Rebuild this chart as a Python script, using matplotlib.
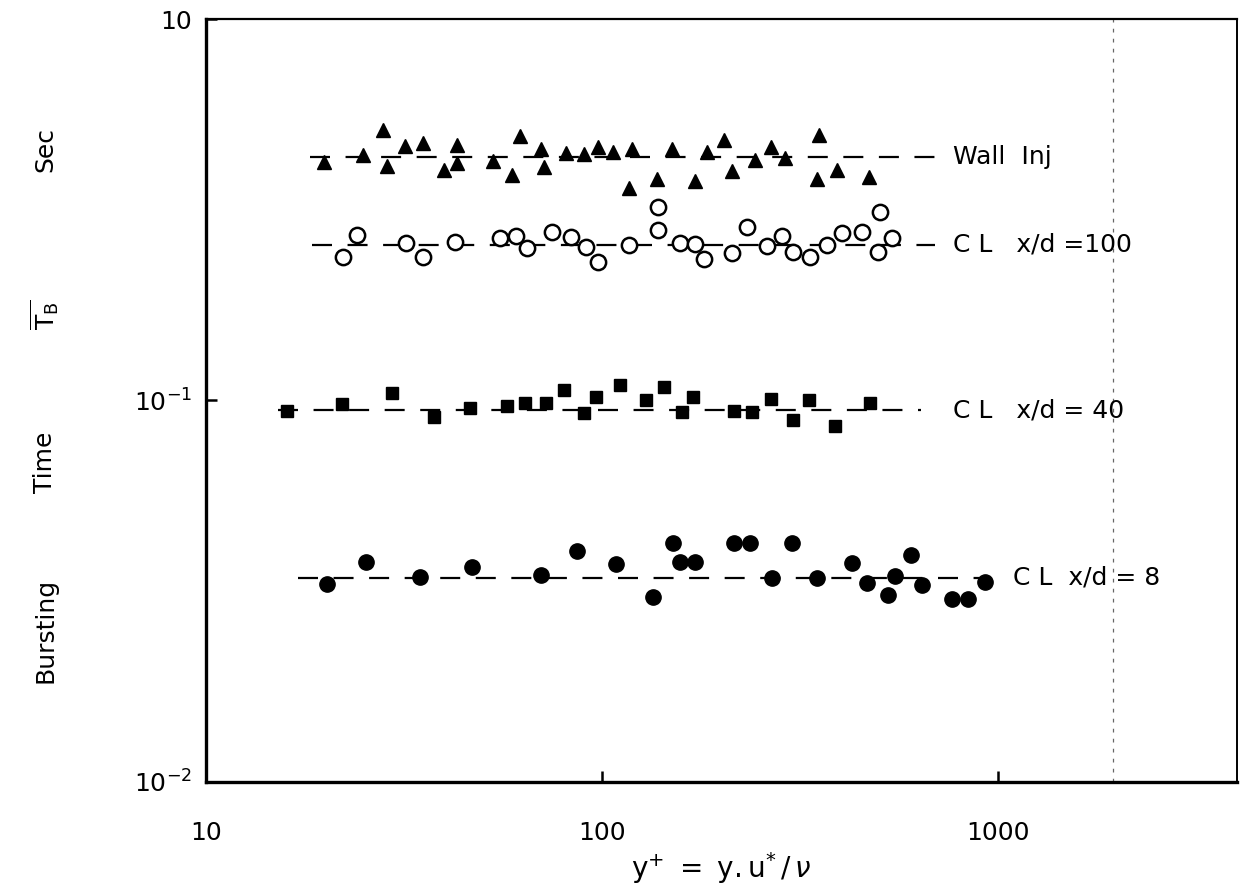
import matplotlib
matplotlib.use("Agg")
import matplotlib.pyplot as plt
from matplotlib.ticker import FixedLocator, FixedFormatter, NullLocator

# Bursting time against y+ for the four measuring stations
wall_x = [19.8, 24.9, 28.0, 28.7, 31.8, 35.3, 39.9, 43.0, 43.0, 53.0, 59.3,
          62.1, 70.2, 71.4, 81.1, 90.1, 97.7, 106.6, 119.1, 117.0, 137.7,
          150.2, 171.7, 184.1, 203.3, 213.0, 243.5, 267.3, 289.9, 353.2,
          349.1, 392.1, 472.3]
wall_y = [0.422, 0.440, 0.512, 0.412, 0.465, 0.473, 0.402, 0.468, 0.419,
          0.424, 0.390, 0.494, 0.456, 0.409, 0.445, 0.443, 0.462, 0.448,
          0.456, 0.361, 0.381, 0.456, 0.376, 0.448, 0.482, 0.400, 0.427,
          0.462, 0.432, 0.497, 0.381, 0.402, 0.385]

cl100_x = [22.2, 24.1, 32.0, 35.3, 42.5, 55.3, 60.7, 64.7, 74.8, 83.5, 91.1,
           97.7, 117.0, 138.5, 138.5, 157.4, 171.7, 181.0, 213.0, 232.4,
           261.1, 284.9, 303.6, 335.2, 370.1, 403.7, 453.6, 497.7, 503.5,
           539.9]
cl100_y = [0.238, 0.272, 0.259, 0.238, 0.260, 0.267, 0.270, 0.251, 0.276,
           0.268, 0.253, 0.231, 0.256, 0.322, 0.280, 0.259, 0.257, 0.235,
           0.243, 0.285, 0.254, 0.270, 0.245, 0.238, 0.256, 0.275, 0.276,
           0.245, 0.312, 0.267]

cl40_x = [16.0, 22.0, 29.5, 37.7, 46.4, 57.5, 63.9, 72.2, 80.2, 90.1, 96.6,
          111.1, 129.2, 143.4, 159.2, 169.8, 215.4, 239.2, 267.3, 303.6,
          333.2, 387.6, 475.1]
cl40_y = [0.0939, 0.0979, 0.1046, 0.0905, 0.0956, 0.0967, 0.0985, 0.0985,
          0.1066, 0.0927, 0.1021, 0.1098, 0.1003, 0.1085, 0.0933, 0.1021,
          0.0939, 0.0933, 0.1009, 0.0889, 0.1003, 0.0858, 0.0985]

cl8_x = [20.2, 25.4, 34.7, 47.0, 70.2, 86.5, 108.5, 134.5, 151.1, 157.4,
         171.7, 215.4, 236.4, 268.8, 301.9, 349.1, 427.9, 466.9, 527.5,
         549.5, 603.0, 643.0, 765.4, 840.1, 927.3]
cl8_y = [0.0330, 0.0377, 0.0345, 0.0366, 0.0349, 0.0403, 0.0373, 0.0305,
         0.0423, 0.0377, 0.0377, 0.0423, 0.0423, 0.0343, 0.0423, 0.0343,
         0.0375, 0.0332, 0.0309, 0.0347, 0.0394, 0.0328, 0.0302, 0.0302,
         0.0334]

# mean levels and the y+ span of each dashed line
mean_levels = [0.435, 0.256, 0.0944, 0.0343]
line_start = [18.3, 18.5, 15.2, 17.1]
line_end = [693, 693, 640, 954]
line_labels = ["Wall  Inj", "C L   x/d =100", "C L   x/d = 40", "C L  x/d = 8"]
label_x = [769, 769, 769, 1092]

x_ticks = [10, 100, 1000]
x_ticklabels = ["10", "100", "1000"]
y_ticks = [0.01, 0.1, 1.0]
y_ticklabels = [r"$10^{-2}$", r"$10^{-1}$", "10"]

plt.rcParams["font.family"] = ["DejaVu Sans"]
plt.rcParams["mathtext.fontset"] = "dejavusans"

fig = plt.figure(figsize=(12.49, 8.88), dpi=100)
ax = fig.add_axes([0.165, 0.1194, 0.825, 0.8592])
ax.set_xscale("log")
ax.set_yscale("log")
ax.set_xlim(10, 4000)
ax.set_ylim(0.01, 1.0)

ink = "black"
ax.plot(wall_x, wall_y, linestyle="none", marker="^", ms=10, color=ink)
ax.plot(cl100_x, cl100_y, linestyle="none", marker="o", ms=11,
        markerfacecolor="white", markeredgecolor=ink, markeredgewidth=1.8)
ax.plot(cl40_x, cl40_y, linestyle="none", marker="s", ms=9, color=ink)
ax.plot(cl8_x, cl8_y, linestyle="none", marker="o", ms=11, color=ink)

for lev, x0, x1, lab, lx in zip(mean_levels, line_start, line_end,
                                line_labels, label_x):
    ax.plot([x0, x1], [lev, lev], color=ink, lw=1.6,
            linestyle=(0, (9, 7)), zorder=1)
    ax.text(lx, lev, lab, ha="left", va="center", fontsize=18, color=ink)

# faint vertical guide near the right edge
ax.axvline(1950, color=ink, lw=0.9, linestyle=(0, (3, 5)), alpha=0.6)

ax.xaxis.set_major_locator(FixedLocator(x_ticks))
ax.xaxis.set_major_formatter(FixedFormatter(x_ticklabels))
ax.xaxis.set_minor_locator(NullLocator())
ax.yaxis.set_major_locator(FixedLocator(y_ticks))
ax.yaxis.set_major_formatter(FixedFormatter(y_ticklabels))
ax.yaxis.set_minor_locator(NullLocator())
ax.tick_params(axis="x", direction="in", length=8, width=1.8,
               labelsize=18, pad=28)
ax.tick_params(axis="y", direction="in", length=8, width=1.8,
               labelsize=18, pad=10)

ax.spines["left"].set_linewidth(2.4)
ax.spines["bottom"].set_linewidth(2.4)
ax.spines["top"].set_linewidth(1.6)
ax.spines["right"].set_linewidth(1.4)

ax.set_xlabel(r"$\mathrm{y}^{+}\ =\ \mathrm{y.u}^{*}\,/\,\nu$",
              fontsize=20, labelpad=4)

# y-axis title written word by word
for word, ypix in [("Bursting", 630), ("Time", 462),
                   (r"$\overline{\mathrm{T}_{\mathrm{B}}}$", 315),
                   ("Sec", 150)]:
    fig.text(45 / 1249, 1 - ypix / 888, word, rotation=90, ha="center",
             va="center", fontsize=18)

fig.savefig("out.png", dpi=100)
